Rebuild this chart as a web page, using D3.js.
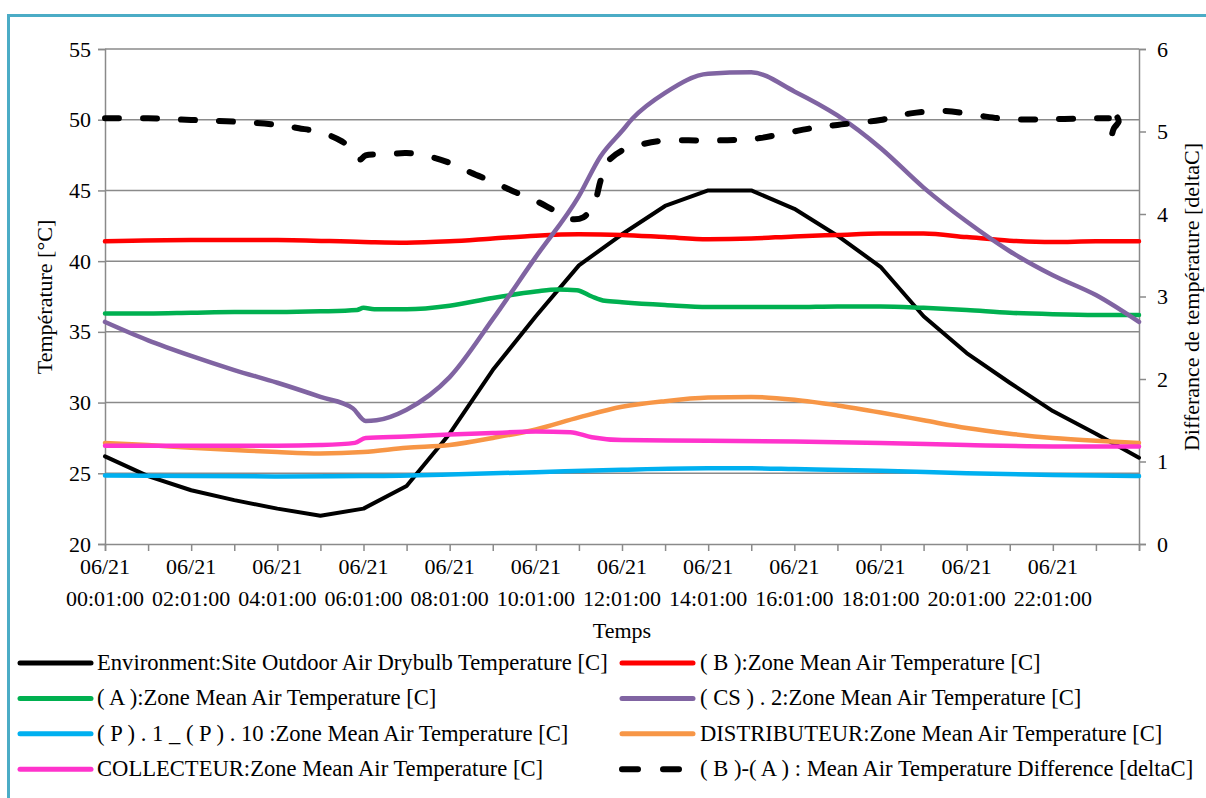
<!DOCTYPE html>
<html>
<head>
<meta charset="utf-8">
<script src="https://cdn.jsdelivr.net/npm/d3@7/dist/d3.min.js"></script>
</head>
<body style="margin:0;padding:0;background:#fff">
<svg id="chart" width="1206" height="798"></svg>
<script>
// ---------- DATA (hour of day, value) ----------
const outdoorTemp = [[0,26.2],[1,24.8],[2,23.8],[3,23.1],[4,22.5],[5,22.0],[6,22.5],[7,24.1],[8,27.8],[9,32.3],[10,36.1],[11,39.7],[12,41.9],[13,43.9],[14,45.0],[15,45.0],[16,43.7],[17,41.8],[18,39.6],[19,36.1],[20,33.5],[21,31.4],[22,29.4],[23,27.8],[24,26.1]];
const zoneB = [[0,41.4],[2,41.5],[4,41.5],[6,41.35],[7,41.3],[8,41.4],[9,41.6],[10,41.8],[11,41.9],[12,41.85],[13,41.7],[14,41.55],[15,41.6],[16,41.75],[17,41.85],[18,41.95],[19,41.95],[20,41.7],[21,41.45],[22,41.35],[23,41.4],[24,41.4]];
const zoneA = [[0,36.3],[1,36.3],[2,36.35],[3,36.4],[4,36.4],[5,36.45],[5.85,36.55],[6,36.7],[6.25,36.6],[7,36.6],[8,36.85],[9,37.4],[10,37.85],[10.5,38.0],[10.95,37.95],[11.3,37.5],[11.6,37.2],[12,37.1],[13,36.9],[14,36.75],[15,36.75],[16,36.75],[17,36.8],[18,36.8],[19,36.7],[20,36.55],[21,36.35],[22,36.25],[23,36.2],[24,36.2]];
const zoneCS2 = [[0,35.7],[1,34.4],[2,33.3],[3,32.3],[4,31.4],[5,30.4],[5.75,29.6],[6.05,28.7],[6.3,28.75],[7,29.5],[8,31.8],[9,35.9],[10,40.3],[11,44.6],[11.5,47.4],[12,49.2],[12.25,50.1],[13,51.9],[14,53.25],[15,53.35],[16,52.0],[17,50.3],[18,48.0],[19,45.2],[20,42.8],[21,40.7],[22,39.0],[23,37.6],[24,35.7]];
const zoneP = [[0,24.85],[2,24.8],[4,24.78],[6,24.8],[8,24.92],[10,25.08],[12,25.25],[14,25.35],[15,25.35],[16,25.3],[18,25.18],[20,25.0],[22,24.88],[24,24.8]];
const zoneDistrib = [[0,27.15],[1,27.0],[2,26.8],[3,26.65],[4,26.5],[5,26.4],[6,26.5],[7,26.8],[8,27.0],[9,27.5],[10,28.1],[11,28.95],[12,29.7],[13,30.1],[14,30.35],[15,30.4],[16,30.2],[17,29.8],[18,29.3],[19,28.75],[20,28.2],[21,27.8],[22,27.5],[23,27.3],[24,27.15]];
const zoneCollect = [[0,26.95],[2,26.95],[4,26.95],[5,27.0],[5.8,27.15],[6.05,27.5],[7,27.6],[8,27.75],[9,27.85],[10,27.95],[10.8,27.9],[11.3,27.55],[12,27.35],[14,27.3],[16,27.25],[18,27.15],[20,27.0],[22,26.9],[24,26.9]];
const diffBA = [[0,5.16],[1,5.16],[2,5.14],[3,5.12],[4,5.08],[4.5,5.04],[5,4.99],[5.5,4.88],[5.85,4.72],[5.92,4.66],[6.05,4.71],[6.5,4.72],[7,4.74],[7.5,4.7],[8,4.62],[8.5,4.5],[9,4.39],[9.5,4.27],[10,4.16],[10.4,4.05],[10.8,3.94],[11.1,3.96],[11.35,4.12],[11.5,4.4],[11.65,4.62],[12,4.77],[12.5,4.85],[13,4.89],[14,4.89],[14.7,4.9],[15.2,4.92],[15.8,4.98],[16.4,5.04],[17,5.08],[18,5.14],[18.7,5.22],[19.5,5.25],[20.3,5.19],[21,5.15],[22,5.15],[22.9,5.16],[23.3,5.16],[23.5,5.17],[23.53,5.12],[23.42,5.04],[23.38,4.98]];

const leftTicks = [20,25,30,35,40,45,50,55];
const rightTicks = [0,1,2,3,4,5,6];
const hourTicks = d3.range(0,25,1);
const labelHours = [0,2,4,6,8,10,12,14,16,18,20,22];
const dateLabel = "06/21";

const seriesNames = [
  "Environment:Site Outdoor Air Drybulb Temperature [C]",
  "( B ):Zone Mean Air Temperature [C]",
  "( A ):Zone Mean Air Temperature [C]",
  "( CS ) . 2:Zone Mean Air Temperature [C]",
  "( P ) . 1 _ ( P ) . 10 :Zone Mean Air Temperature [C]",
  "DISTRIBUTEUR:Zone Mean Air Temperature [C]",
  "COLLECTEUR:Zone Mean Air Temperature [C]",
  "( B )-( A ) : Mean Air Temperature Difference [deltaC]"
];
const seriesColors = ["#000000","#ff0000","#00b050","#8064a2","#00b0f0","#f79646","#ff33cc","#000000"];

// ---------- LAYOUT ----------
const FONT = "Liberation Serif";
const FS = 22;
const svg = d3.select("#chart");
const L = 105, R = 1139, T = 49, B = 544;
const x = d3.scaleLinear().domain([0,24]).range([L,R]);
const y = d3.scaleLinear().domain([20,55]).range([B,T]);
const y2 = d3.scaleLinear().domain([0,6]).range([B,T]);
const gridColor = "#8a8a8a";

// frame
svg.append("rect").attr("x",8.5).attr("y",15.5).attr("width",1220).attr("height",820)
  .attr("fill","none").attr("stroke","#4bacc6").attr("stroke-width",3);

// gridlines
svg.append("g").selectAll("line").data(leftTicks.filter(d=>d>20)).join("line")
  .attr("x1",L).attr("x2",R).attr("y1",d=>y(d)).attr("y2",d=>y(d))
  .attr("stroke",gridColor).attr("stroke-width",1.5);

// axes
const gl = svg.append("g").attr("transform",`translate(${L},0)`)
  .call(d3.axisLeft(y).tickValues(leftTicks).tickSize(7).tickPadding(7).tickFormat(d3.format("d")));
const gr = svg.append("g").attr("transform",`translate(${R},0)`)
  .call(d3.axisRight(y2).tickValues(rightTicks).tickSize(7).tickPadding(11).tickFormat(d3.format("d")));
const gb = svg.append("g").attr("transform",`translate(0,${B})`)
  .call(d3.axisBottom(x).tickValues(hourTicks).tickSize(7).tickFormat(""));
[gl,gr,gb].forEach(g=>{
  g.attr("font-family",FONT);
  g.select(".domain").attr("stroke",gridColor).attr("stroke-width",1.5);
  g.selectAll(".tick line").attr("stroke",gridColor).attr("stroke-width",1.5);
  g.selectAll(".tick text").attr("fill","#000").style("font-size",FS+"px");
});

// x labels (two lines)
const xl = svg.append("g").selectAll("text").data(labelHours).join("text")
  .attr("text-anchor","middle").style("font-size",FS+"px");
xl.append("tspan").attr("x",d=>x(d)).attr("y",574).text(dateLabel);
xl.append("tspan").attr("x",d=>x(d)).attr("y",606).text(d=>String(d).padStart(2,"0")+":01:00");

// axis titles
svg.append("text").attr("x",622).attr("y",638).attr("text-anchor","middle").style("font-size",FS+"px").text("Temps");
svg.append("text").attr("transform","translate(52,297) rotate(-90)").attr("text-anchor","middle").style("font-size",FS+"px").text("Température [°C]");
svg.append("text").attr("transform","translate(1199,297) rotate(-90)").attr("text-anchor","middle").style("font-size",FS+"px").text("Differance de température [deltaC]");

// series
const lineLin = d3.line().x(d=>x(d[0])).y(d=>y(d[1]));
const lineSmooth = d3.line().x(d=>x(d[0])).y(d=>y(d[1])).curve(d3.curveMonotoneX);
const lineDiff = d3.line().x(d=>x(d[0])).y(d=>y2(d[1])).curve(d3.curveCatmullRom.alpha(0.5));
const plotG = svg.append("g");
const tempSeries = [outdoorTemp, zoneB, zoneA, zoneCS2, zoneP, zoneDistrib, zoneCollect];
tempSeries.forEach((s,i)=>{
  plotG.append("path").datum(s)
    .attr("d", i===0 ? lineLin : lineSmooth)
    .attr("fill","none").attr("stroke",seriesColors[i])
    .attr("stroke-width", i===0 ? 4 : 4.5)
    .attr("stroke-linejoin","round").attr("stroke-linecap","round");
});
// dashed difference series: main dashed run, and the final hook (last points) as one dash
const hookStart = diffBA.length - 5;
plotG.append("path").datum(diffBA.slice(0, hookStart + 1)).attr("d",lineDiff)
  .attr("fill","none").attr("stroke","#000").attr("stroke-width",6)
  .attr("stroke-dasharray","14,24").attr("stroke-linecap","round").attr("stroke-linejoin","round");
plotG.append("path").datum(diffBA.slice(hookStart + 1)).attr("d",lineDiff)
  .attr("fill","none").attr("stroke","#000").attr("stroke-width",6)
  .attr("stroke-linecap","round").attr("stroke-linejoin","round");

// legend
const legX = [20, 622], legY0 = 663, legDy = 35.4;
const leg = svg.append("g").selectAll("g").data(seriesNames).join("g")
  .attr("transform",(d,i)=>`translate(${legX[i%2]},${legY0 + Math.floor(i/2)*legDy})`);
leg.append("line").attr("x1",0).attr("x2",71).attr("y1",0).attr("y2",0)
  .attr("stroke",(d,i)=>seriesColors[i]).attr("stroke-width",(d,i)=>i===7?6:5)
  .attr("stroke-linecap","round")
  .attr("stroke-dasharray",(d,i)=>i===7?"16,25":null);
leg.append("text").attr("x",(d,i)=>i%2===0?77:78).attr("y",7).style("font-size","22.6px").text(d=>d);

// font for every text
svg.attr("font-family",FONT);
svg.selectAll("text").style("font-family",FONT);
</script>
</body>
</html>
